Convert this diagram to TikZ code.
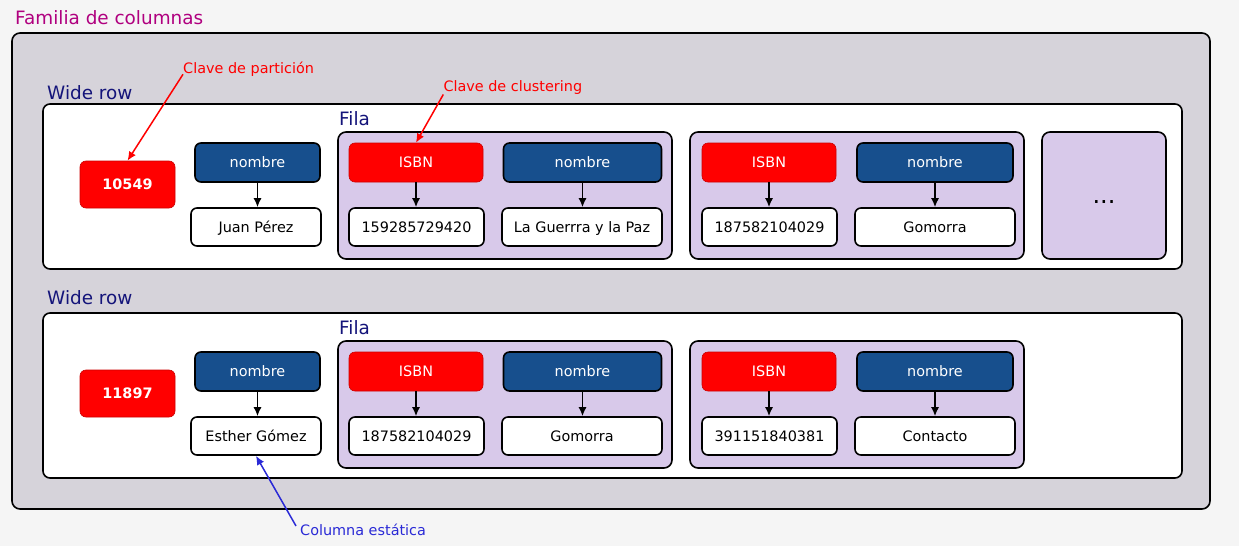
\documentclass[tikz,border=0pt]{standalone}
\usepackage{fontspec}
\setmainfont{DejaVu Sans}
\usetikzlibrary{arrows.meta}
\definecolor{fondo}{HTML}{F5F5F5}
\definecolor{familia}{HTML}{D6D3DA}
\definecolor{filabg}{HTML}{D8C9EA}
\definecolor{azulcol}{HTML}{174F8D}
\definecolor{titulo}{HTML}{B0007F}
\definecolor{marino}{HTML}{14147A}
\definecolor{notaazul}{HTML}{2A2AD6}
\tikzset{
  caja/.style={draw, line width=1.6pt, rounded corners=6pt, minimum height=38pt, inner sep=0,
    text height=13.5pt, text depth=3pt, font=\fontsize{14.4}{17}\selectfont},
  clave/.style={caja, fill=red, draw=red!80!black, line width=0.6pt, text=white},
  columna/.style={caja, fill=azulcol, text=white},
  valor/.style={caja, fill=white},
  contenedor/.style={line width=1.6pt, rounded corners=8pt},
  rotulo/.style={anchor=base west, inner sep=0, text=marino, font=\fontsize{18.4}{22}\selectfont},
  nota/.style={anchor=base west, inner sep=0, font=\fontsize{14.4}{17}\selectfont},
  flecha/.style={-{Latex[length=9pt,width=8pt]}, line width=1.5pt},
}
\begin{document}
\begin{tikzpicture}[x=1pt,y=-1pt]
  \useasboundingbox[fill=fondo] (0,0) rectangle (1239,546);
  \node[rotulo, text=titulo] (familia) at (15,24) {Familia de columnas};
  \draw[contenedor, fill=familia] (12,33) rectangle (1210,509);
  % one wide row per partition key
  \foreach \r/\dy/\wy/\pk/\nom/\va/\vb/\vc/\vd in {1/0/99/10549/Juan Pérez/159285729420/La Guerrra y la Paz/187582104029/Gomorra,
      2/209/304/11897/Esther Gómez/187582104029/Gomorra/391151840381/Contacto} {
    \node[rotulo] (wr\r) at (47,\wy) {Wide row};
    \draw[contenedor, fill=white, rounded corners=7pt] (43,104+\dy) rectangle (1182,269+\dy);
    \node[clave, minimum width=95pt, minimum height=47pt, font=\fontsize{14.4}{17}\selectfont\bfseries] (pk\r) at (127.5,184.5+\dy) {\pk};
    \node[columna, minimum width=125pt, minimum height=39pt] (sc\r) at (257.5,162.5+\dy) {nombre};
    \node[valor, minimum width=130pt] (vsc\r) at (256,227+\dy) {\nom};
    \foreach \fx in {338,690}
      \draw[contenedor, fill=filabg] (\fx,132+\dy) rectangle (\fx+334,259+\dy);
    \node[rotulo] (fila\r) at (339,125+\dy) {Fila};
    \node[clave, minimum width=134pt, minimum height=39pt] (ia\r) at (416,162.5+\dy) {ISBN};
    \node[columna, minimum width=158pt, minimum height=39pt] (na\r) at (582.5,162.5+\dy) {nombre};
    \node[valor, minimum width=135pt] (via\r) at (416.5,227+\dy) {\va};
    \node[valor, minimum width=160pt] (vna\r) at (582,227+\dy) {\vb};
    \node[clave, minimum width=134pt, minimum height=39pt] (ib\r) at (769,162.5+\dy) {ISBN};
    \node[columna, minimum width=156pt, minimum height=39pt] (nb\r) at (935,162.5+\dy) {nombre};
    \node[valor, minimum width=135pt] (vib\r) at (769.5,227+\dy) {\vc};
    \node[valor, minimum width=160pt] (vnb\r) at (935,227+\dy) {\vd};
    \foreach \c in {sc,ia,na,ib,nb}
      \draw[flecha] (\c\r.south) -- (\c\r.south |- v\c\r.north);
  }
  \draw[contenedor, fill=filabg] (1042,132) rectangle (1166,259);
  \node[font=\fontsize{24}{28}\selectfont] (mas) at (1104,202) {...};
  % annotations
  \node[nota, text=red] (lpart) at (183,73.3) {Clave de partición};
  \draw[flecha, red] ([yshift=-1pt]lpart.base west) -- (pk1.north);
  \node[nota, text=red] (lclus) at (443.3,91.3) {Clave de clustering};
  \draw[flecha, red] (lclus.south west) -- (ia1.north);
  \node[nota, text=notaazul] (lstat) at (300,535.7) {Columna estática};
  \draw[flecha, notaazul] ([xshift=-4pt,yshift=-2pt]lstat.north west) -- (vsc2.south);
\end{tikzpicture}
\end{document}
